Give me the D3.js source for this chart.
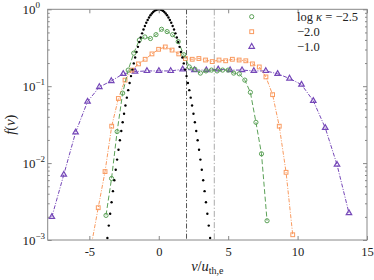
<!DOCTYPE html>
<html><head><meta charset="utf-8">
<script src="https://cdn.jsdelivr.net/npm/d3@7"></script>
<style>
body{margin:0;background:#fff}
svg{display:block}
svg text{font-family:"Liberation Serif","DejaVu Serif",serif !important;fill:#222}
</style>
</head><body><svg id="c" width="374" height="280"></svg>
<script>
// ---------- data ----------
const maxwellV = [-3.7,-3.6,-3.5,-3.4,-3.3,-3.2,-3.1,-3.0,-2.9,-2.8,-2.7,-2.6,-2.5,-2.4,-2.3,-2.2,-2.1,-2.0,-1.9,-1.8,-1.7,-1.6,-1.5,-1.4,-1.3,-1.2,-1.1,-1.0,-0.9,-0.8,-0.7,-0.6,-0.5,-0.4,-0.3,-0.2,-0.1,0.0,
  0.1,0.2,0.3,0.4,0.5,0.6,0.7,0.8,0.9,1.0,1.1,1.2,1.3,1.4,1.5,1.6,1.7,1.8,1.9,2.0,2.1,2.2,2.3,2.4,2.5,2.6,2.7,2.8,2.9,3.0,3.1,3.2,3.3,3.4,3.5,3.6,3.7];
const maxwellF = [0.00106,0.00154,0.00219,0.00309,0.00432,0.00598,0.00819,0.0111,0.0149,0.0198,0.0261,0.0340,0.0439,0.0561,0.0710,0.0889,0.1103,0.1353,0.1645,0.1979,0.2357,0.2780,0.3247,0.3753,0.4296,0.4868,0.5461,0.6065,0.6670,0.7261,0.7827,0.8353,0.8825,0.9231,0.9560,0.9802,0.9950,1.0,
  0.9950,0.9802,0.9560,0.9231,0.8825,0.8353,0.7827,0.7261,0.6670,0.6065,0.5461,0.4868,0.4296,0.3753,0.3247,0.2780,0.2357,0.1979,0.1645,0.1353,0.1103,0.0889,0.0710,0.0561,0.0439,0.0340,0.0261,0.0198,0.0149,0.0111,0.00819,0.00598,0.00432,0.00309,0.00219,0.00154,0.00106];

const greenV = [-3.8,-3.4,-3.0,-2.6,-2.2,-1.8,-1.4,-1.0,-0.6,-0.2,0.2,0.6,1.0,1.4,1.8,2.2,2.6,3.0,3.4,3.8,4.2,4.6,5.0,5.4,5.8,6.2,6.6,7.0,7.4,7.8];
const greenF = [0.00209,0.00631,0.0257,0.0813,0.162,0.269,0.398,0.437,0.417,0.468,0.550,0.513,0.468,0.380,0.257,0.178,0.166,0.148,0.158,0.162,0.158,0.162,0.162,0.148,0.145,0.120,0.0832,0.0339,0.0132,0.00178];

const orangeV = [-4.84,-4.36,-3.87,-3.39,-2.91,-2.43,-1.94,-1.46,-0.98,-0.49,-0.01,0.47,0.96,1.44,1.92,2.41,2.89,3.37,3.85,4.34,4.82,5.30,5.79,6.27,6.75,7.24,7.72,8.20,8.68,9.17,9.65];
const orangeF = [0.00089,0.00263,0.00776,0.0302,0.0692,0.120,0.162,0.195,0.224,0.263,0.302,0.324,0.295,0.263,0.229,0.224,0.229,0.219,0.209,0.219,0.214,0.224,0.219,0.214,0.195,0.178,0.132,0.0776,0.0302,0.00759,0.00117];

const purpleV = [-7.70,-6.84,-5.99,-5.13,-4.28,-3.42,-2.56,-1.71,-0.85,0.01,0.86,1.72,2.57,3.43,4.28,5.14,6.00,6.85,7.71,8.56,9.42,10.28,11.13,11.99,12.84,13.70];
const purpleF = [0.00200,0.00708,0.0251,0.0631,0.0977,0.117,0.145,0.155,0.158,0.158,0.158,0.166,0.162,0.162,0.166,0.162,0.162,0.158,0.158,0.145,0.126,0.105,0.0646,0.0288,0.00955,0.00224];

const refLinesV = [2, 4];
const xTicks = [-5, 0, 5, 10, 15];
const yDecades = [0, -1, -2, -3];
const legendLabels = ["−2.5", "−2.0", "−1.0"];

// ---------- layout ----------
const L = 47.7, R = 367, T = 9.3, B = 240;
const svg = d3.select("#c");
svg.append("rect").attr("width", 374).attr("height", 280).attr("fill", "#fff");

const x = d3.scaleLinear().domain([-8, 15]).range([L, R]);
const y = d3.scaleLog().domain([1e-3, 1]).range([B, T]);

svg.append("clipPath").attr("id", "clip").append("rect")
  .attr("x", L).attr("y", T).attr("width", R - L).attr("height", B - T);

const plot = svg.append("g").attr("clip-path", "url(#clip)");

// reference vertical lines
const refStyles = [{c: "#555", d: "5,2,1.2,2"}, {c: "#aaa", d: "6,2,1.2,2"}];
refLinesV.forEach((v, i) => {
  plot.append("line").attr("x1", x(v)).attr("x2", x(v)).attr("y1", T).attr("y2", B)
    .attr("stroke", refStyles[i].c).attr("stroke-width", 1).attr("stroke-dasharray", refStyles[i].d);
});

const green = "#5ba157", orange = "#f99a5f", purple = "#7547b8";
const line = d3.line().x(d => x(d[0])).y(d => y(d[1]));

function series(vs, fs, color, dash, shape) {
  const pts = vs.map((v, i) => [v, fs[i]]);
  plot.append("path").datum(pts).attr("d", line).attr("fill", "none")
    .attr("stroke", color).attr("stroke-width", 1).attr("stroke-dasharray", dash);
  const g = plot.append("g");
  pts.forEach(p => drawMarker(g, x(p[0]), y(p[1]), color, shape));
}
function drawMarker(g, cx, cy, color, shape) {
  if (shape === "circle") {
    g.append("circle").attr("cx", cx).attr("cy", cy).attr("r", 2.1)
      .attr("fill", "none").attr("stroke", color).attr("stroke-width", 1);
  } else if (shape === "square") {
    g.append("rect").attr("x", cx - 1.9).attr("y", cy - 1.9).attr("width", 3.8).attr("height", 3.8)
      .attr("fill", "none").attr("stroke", color).attr("stroke-width", 1);
  } else {
    g.append("path").attr("d", d3.symbol(d3.symbolTriangle, 13)())
      .attr("transform", `translate(${cx},${cy})`)
      .attr("fill", "none").attr("stroke", color).attr("stroke-width", 1.2);
  }
}

series(purpleV, purpleF, purple, "4,1.5,1,1.5", "triangle");
series(orangeV, orangeF, orange, "4,1.5,1,1.5", "square");
series(greenV, greenF, green, "5,2.5", "circle");

plot.append("g").selectAll("circle").data(maxwellV.map((v, i) => [v, maxwellF[i]]))
  .join("circle").attr("cx", d => x(d[0])).attr("cy", d => y(d[1])).attr("r", 1.2).attr("fill", "#000");

// ---------- axes ----------
const axisColor = "#888";
const allY = y.ticks();
const majorY = allY.filter(v => Math.abs(Math.log10(v) - Math.round(Math.log10(v))) < 1e-6);
const minorY = allY.filter(v => !majorY.includes(v));

function styleAxis(g) {
  g.select(".domain").remove();
  g.attr("font-family", null);
  g.selectAll(".tick line").attr("stroke", axisColor);
  g.selectAll("text").attr("fill", "#222").attr("font-size", 12.5);
}
svg.append("g").attr("transform", `translate(0,${B})`)
  .call(d3.axisBottom(x).tickValues(xTicks).tickSize(-4).tickPadding(7).tickFormat(d => d < 0 ? "-" + Math.abs(d) : d))
  .call(styleAxis);
svg.append("g").attr("transform", `translate(0,${T})`)
  .call(d3.axisTop(x).tickValues(xTicks).tickSize(-4).tickFormat(""))
  .call(styleAxis);
svg.append("g").attr("transform", `translate(${L},0)`)
  .call(d3.axisLeft(y).tickValues(majorY).tickSize(-4).tickFormat("")).call(styleAxis);
svg.append("g").attr("transform", `translate(${L},0)`)
  .call(d3.axisLeft(y).tickValues(minorY).tickSize(-2).tickFormat("")).call(styleAxis);
svg.append("g").attr("transform", `translate(${R},0)`)
  .call(d3.axisRight(y).tickValues(majorY).tickSize(-4).tickFormat("")).call(styleAxis);
svg.append("g").attr("transform", `translate(${R},0)`)
  .call(d3.axisRight(y).tickValues(minorY).tickSize(-2).tickFormat("")).call(styleAxis);

svg.append("rect").attr("x", L).attr("y", T).attr("width", R - L).attr("height", B - T)
  .attr("fill", "none").attr("stroke", axisColor).attr("stroke-width", 1);

// y tick labels 10^n
yDecades.forEach(e => {
  const t = svg.append("text").attr("x", 22.5).attr("y", y(Math.pow(10, e)) + 4.5)
    .attr("font-size", 13);
  t.append("tspan").text("10");
  t.append("tspan").attr("dy", -5.5).attr("font-size", 9).text(e === 0 ? "0" : "−" + Math.abs(e));
});

// axis titles
const xl = svg.append("text").attr("x", (L + R) / 2).attr("y", 271).attr("text-anchor", "middle").attr("font-size", 14.5);
xl.append("tspan").attr("font-style", "italic").text("v");
xl.append("tspan").text("/");
xl.append("tspan").attr("font-style", "italic").text("u");
xl.append("tspan").attr("dy", 3).attr("font-size", 10).text("th,e");

const yl = svg.append("text").attr("transform", `translate(15,${(T + B) / 2}) rotate(-90)`)
  .attr("text-anchor", "middle").attr("font-size", 14.5);
yl.append("tspan").attr("font-style", "italic").text("f");
yl.append("tspan").text("(");
yl.append("tspan").attr("font-style", "italic").text("v");
yl.append("tspan").text(")");

// legend
const legColors = [green, orange, purple];
const legShapes = ["circle", "square", "triangle"];
const lg = svg.append("g");
legendLabels.forEach((lab, i) => {
  const cy = 16.7 + i * 15;
  drawMarker(lg, 251.7, cy, legColors[i], legShapes[i]);
  const t = lg.append("text").attr("x", 297).attr("y", cy + 4.3).attr("font-size", 12.5);
  if (i === 0) {
    t.append("tspan").text("log ");
    t.append("tspan").attr("font-style", "italic").text("κ");
    t.append("tspan").text(" = " + lab);
  } else {
    t.text(lab);
  }
});
</script></body></html>
